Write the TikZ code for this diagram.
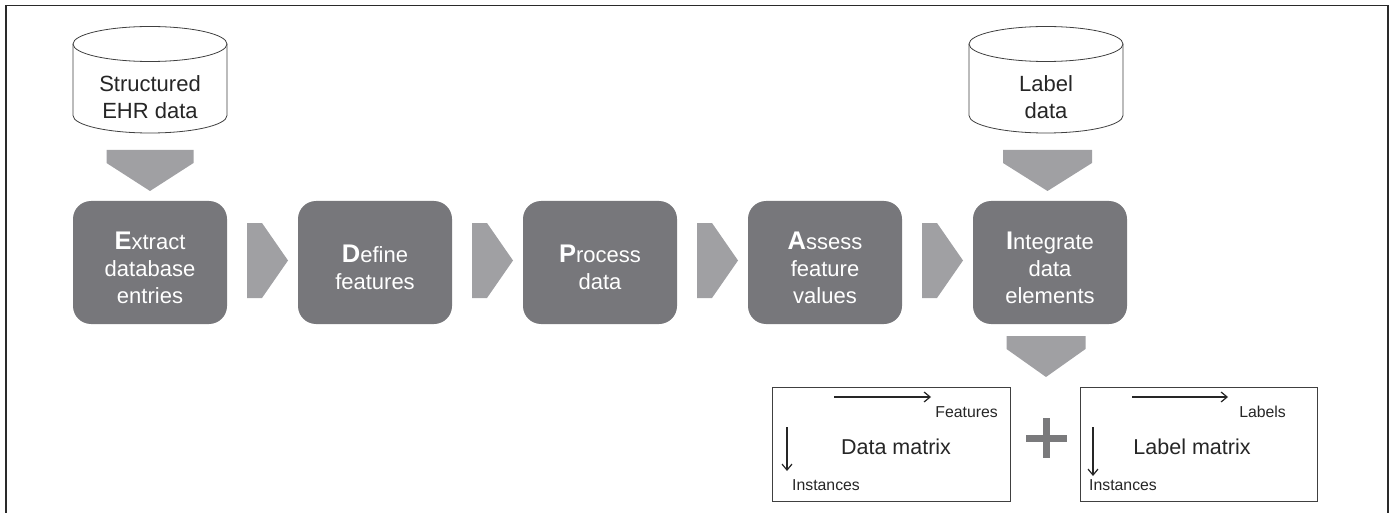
\documentclass[tikz,border=0pt]{standalone}
\usepackage{fontspec}
\setmainfont{Liberation Sans}
\usetikzlibrary{arrows.meta}
\definecolor{boxgray}{HTML}{77777B}
\definecolor{arrowgray}{HTML}{A0A0A3}
\definecolor{plusgray}{HTML}{7A7A7C}
\definecolor{framecol}{HTML}{2A2A2A}
\newcommand\initcap[1]{{\bfseries\fontsize{25.5}{27}\selectfont #1}}
\newcommand\dnblock[3]{\fill[arrowgray] (#1-#3,#2) -- (#1+#3,#2) -- (#1+#3,#2+13) -- (#1,#2+41) -- (#1-#3,#2+13) -- cycle;}
\newcommand\rtblock[1]{\fill[arrowgray] (#1,223) -- (#1+15,223) -- (#1+41,260.5) -- (#1+15,298) -- (#1,298) -- cycle;}
\newcommand\cyldraw[2]{%
  \filldraw[cylline] (#1-77,44) -- (#1-77,115.5) arc[start angle=180, end angle=360, x radius=77pt, y radius=17.5pt] -- (#1+77,44);
  \filldraw[cylline] (#1,44) ellipse [x radius=77pt, y radius=17.5pt];}
\tikzset{
  stepbox/.style={fill=boxgray, rounded corners=18pt, minimum width=154pt, minimum height=123pt, inner sep=0pt},
  steptext/.style={text=white, align=center, inner sep=0pt, font=\fontsize{22}{27}\selectfont},
  cylline/.style={draw=black!75, fill=white, line width=0.8pt},
  cyltext/.style={align=center, inner sep=0pt, text=black!85, font=\fontsize{22}{27}\selectfont},
  matbox/.style={draw=black!75, line width=1pt, fill=white, minimum width=238pt, minimum height=114pt, inner sep=0pt},
  mattitle/.style={inner sep=0pt, text=black!85, font=\fontsize{21.5}{26}\selectfont},
  smalltext/.style={inner sep=0pt, text=black!85, font=\fontsize{15.8}{18}\selectfont},
  thinarrow/.style={draw=black!85, line width=1.2pt, -{Straight Barb[length=6pt, width=10pt]}}
}
\begin{document}
\begin{tikzpicture}[x=1pt, y=-1pt]
\useasboundingbox (0,0) rectangle (1394,513);
% frame
\draw[framecol, line width=1.5pt] (6,515) -- (6,5.5) -- (1388,5.5) -- (1388,515);

% cylinders
\cyldraw{150}{}
\node[cyltext] (ehr) at (150,97) {Structured\\EHR data};
\cyldraw{1046}{}
\node[cyltext] (lbl) at (1046,97) {Label\\data};

% block arrows
\dnblock{150}{150}{43.5}
\dnblock{1047.5}{150}{44.5}
\dnblock{1046}{336}{39.5}
\rtblock{247}
\rtblock{472}
\rtblock{697}
\rtblock{922}

% process boxes
\node[stepbox] (ext) at (150,262.5) {};
\node[stepbox] (def) at (375,262.5) {};
\node[stepbox] (pro) at (600,262.5) {};
\node[stepbox] (ass) at (825,262.5) {};
\node[stepbox] (int) at (1050,262.5) {};
\node[steptext, yshift=-5pt] (extT) at (ext.center) {\initcap{E}xtract\\database\\entries};
\node[steptext, yshift=-5pt] (defT) at (def.center) {\initcap{D}efine\\features};
\node[steptext, yshift=-5pt] (proT) at (pro.center) {\initcap{P}rocess\\data};
\node[steptext, yshift=-5pt] (assT) at (ass.center) {\initcap{A}ssess\\feature\\values};
\node[steptext, yshift=-5pt] (intT) at (int.center) {\initcap{I}ntegrate\\data\\elements};

% matrices
\node[matbox] (dm) at (891,444) {};
\node[matbox, minimum width=237pt] (lm) at (1198.5,444) {};
\node[mattitle] (dmT) at (896,447) {Data matrix};
\node[mattitle] (lmT) at (1192,447) {Label matrix};
\node[smalltext, anchor=east] (feat) at (998,412) {Features};
\node[smalltext, anchor=east] (labs) at (1286,412) {Labels};
\node[smalltext, anchor=west] (inst1) at (792,485) {Instances};
\node[smalltext, anchor=west] (inst2) at (1089,485) {Instances};
\coordinate (fa1) at (834,397);
\coordinate (fa2) at (931,397);
\coordinate (la1) at (1132,397);
\coordinate (la2) at (1228,397);
\coordinate (iv1) at (787,427);
\coordinate (iv2) at (787,471);
\coordinate (jv1) at (1093,427);
\coordinate (jv2) at (1093,476);
\draw[thinarrow] (fa1) -- (fa2);
\draw[thinarrow] (la1) -- (la2);
\draw[thinarrow] (iv1) -- (iv2);
\draw[thinarrow] (jv1) -- (jv2);

% plus
\fill[plusgray] (1025.5,434.5) rectangle (1066.5,441.5);
\fill[plusgray] (1042.5,418) rectangle (1049.5,458);
\end{tikzpicture}
\end{document}
